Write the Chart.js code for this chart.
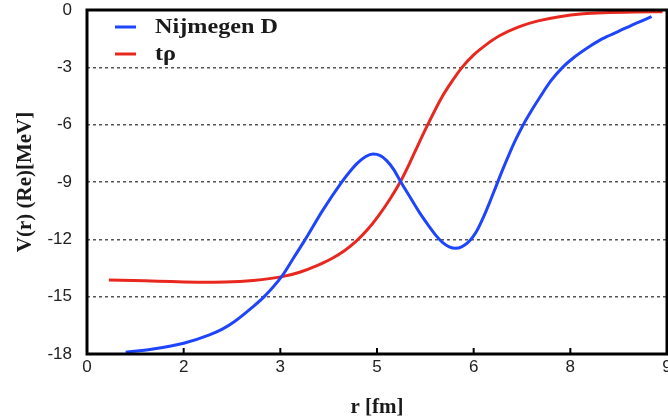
<!DOCTYPE html>
<html>
<head>
<meta charset="utf-8">
<script src="https://cdn.jsdelivr.net/npm/chart.js@4.4.1/dist/chart.umd.min.js"></script>
<style>
  html, body { margin: 0; padding: 0; background: #fff; overflow: hidden; }
  #wrap { width: 668px; height: 418px; overflow: hidden; position: relative; }
  #box { width: 690px; height: 418px; position: absolute; left: 0; top: 0; }
</style>
</head>
<body>
<div id="wrap"><div id="box"><canvas id="c"></canvas></div></div>
<script>
// ---- data ----
const seriesNames = ["Nijmegen D", "t\u03C1"];

const nijX = [0.6, 1.0, 1.5, 1.9, 2.1, 2.29, 2.55, 2.75, 3.03, 3.2, 3.38, 3.66, 3.95, 4.08, 4.2, 4.32, 4.44, 4.55, 4.65, 4.76, 4.87, 5.0, 5.15, 5.3, 5.42, 5.52, 5.62, 5.72, 5.82, 5.9, 5.97, 6.05, 6.15, 6.25, 6.35, 6.45, 6.55, 6.65, 6.77, 6.9, 7.04, 7.2, 7.38, 7.55, 7.78, 8.0, 8.24, 8.5, 8.76];
const nijY = [-17.91, -17.75, -17.44, -17.0, -16.7, -16.3, -15.6, -15.0, -13.9, -13.0, -12.04, -10.47, -9.02, -8.45, -8.0, -7.68, -7.54, -7.62, -7.88, -8.35, -9.0, -9.72, -10.55, -11.28, -11.82, -12.17, -12.39, -12.47, -12.38, -12.2, -11.95, -11.55, -10.85, -10.05, -9.2, -8.35, -7.55, -6.8, -6.0, -5.25, -4.5, -3.7, -3.0, -2.5, -1.95, -1.5, -1.13, -0.72, -0.35];

const trhoX = [0.34, 0.9, 1.3, 1.72, 2.15, 2.58, 3.03, 3.3, 3.55, 3.8, 4.0, 4.17, 4.35, 4.52, 4.7, 4.86, 5.0, 5.1, 5.28, 5.5, 5.65, 5.82, 6.0, 6.18, 6.4, 6.7, 7.0, 7.33, 7.7, 8.01, 8.5, 8.93];
const trhoY = [-14.13, -14.17, -14.21, -14.24, -14.23, -14.15, -13.95, -13.72, -13.4, -13.0, -12.58, -12.12, -11.5, -10.78, -9.9, -9.0, -8.06, -7.33, -6.05, -4.6, -3.8, -3.0, -2.35, -1.85, -1.35, -0.88, -0.57, -0.35, -0.2, -0.14, -0.1, -0.09];

const xTickLabels = ["0", "2", "3", "5", "6", "8", "9"];
const yTickValues = [0, -3, -6, -9, -12, -15, -18];

const xTitle = "r [fm]";
const yTitle = "V(r) (Re)[MeV]";

// ---- build chart ----
const toPts = (xs, ys) => xs.map((x, i) => ({ x: x, y: ys[i] }));

const frameAndLegend = {
  id: 'frameAndLegend',
  afterDatasetsDraw(chart) {
    const ctx = chart.ctx;
    const a = chart.chartArea;
    const xs = chart.scales.x;
    ctx.save();
    // inward tick marks on bottom axis
    ctx.strokeStyle = '#000';
    ctx.lineWidth = 2;
    xs.ticks.forEach(t => {
      const px = xs.getPixelForValue(t.value);
      ctx.beginPath();
      ctx.moveTo(px, a.bottom);
      ctx.lineTo(px, a.bottom - 6);
      ctx.stroke();
    });
    // frame
    ctx.lineWidth = 3;
    ctx.strokeRect(a.left, a.top, a.right - a.left, a.bottom - a.top);
    // legend
    const items = chart.data.datasets;
    items.forEach((ds, i) => {
      const y = a.top + 17 + i * 27;
      ctx.strokeStyle = ds.borderColor;
      ctx.lineWidth = 3;
      ctx.beginPath();
      ctx.moveTo(a.left + 28, y);
      ctx.lineTo(a.left + 49, y);
      ctx.stroke();
      ctx.fillStyle = '#1a1a1a';
      ctx.font = 'bold 22px "Liberation Serif", "Times New Roman", serif';
      ctx.textBaseline = 'middle';
      ctx.save();
      ctx.translate(a.left + 68, y);
      ctx.scale(1.1, 1);
      ctx.fillText(ds.label, 0, 0);
      ctx.restore();
    });
    ctx.restore();
  }
};

new Chart(document.getElementById('c'), {
  type: 'scatter',
  data: {
    datasets: [
      { label: seriesNames[0], data: toPts(nijX, nijY), showLine: true, borderColor: '#1f45fc', backgroundColor: '#1f45fc', borderWidth: 3, pointRadius: 0, cubicInterpolationMode: 'monotone' },
      { label: seriesNames[1], data: toPts(trhoX, trhoY), showLine: true, borderColor: '#e8281e', backgroundColor: '#e8281e', borderWidth: 3, pointRadius: 0, cubicInterpolationMode: 'monotone' }
    ]
  },
  options: {
    responsive: true,
    maintainAspectRatio: false,
    animation: false,
    layout: { padding: { top: 10, right: 23, bottom: 0, left: 0 } },
    plugins: { legend: { display: false }, tooltip: { enabled: false } },
    scales: {
      x: {
        type: 'linear', min: 0, max: 9,
        afterBuildTicks: s => { s.ticks = xTickLabels.map((_, i) => ({ value: i * 1.5 })); },
        afterFit: s => { s.height = 64; s.paddingLeft = 0; s.paddingRight = 0; },
        ticks: {
          callback: (v, i) => xTickLabels[i],
          color: '#222', padding: 3, maxRotation: 0,
          font: { family: '"Liberation Sans", Arial, sans-serif', size: 17 }
        },
        grid: { display: false, drawTicks: false },
        border: { display: false },
        title: { display: true, text: xTitle, color: '#1a1a1a', padding: { top: 0, bottom: -2 },
          font: { family: '"Liberation Serif", "Times New Roman", serif', size: 21, weight: 'bold' } }
      },
      y: {
        type: 'linear', min: -18, max: 0,
        afterBuildTicks: s => { s.ticks = yTickValues.map(v => ({ value: v })); },
        afterFit: s => { s.width = 87; s.paddingTop = 0; s.paddingBottom = 0; },
        ticks: {
          color: '#222', padding: 15,
          font: { family: '"Liberation Sans", Arial, sans-serif', size: 17 }
        },
        grid: { color: '#555', lineWidth: 1.5, drawTicks: false, borderDash: [3, 3] },
        border: { display: false, dash: [3, 3] },
        title: { display: true, text: yTitle, color: '#1a1a1a', padding: { top: 13, bottom: 0 },
          font: { family: '"Liberation Serif", "Times New Roman", serif', size: 21, weight: 'bold' } }
      }
    }
  },
  plugins: [frameAndLegend]
});
</script>
</body>
</html>
